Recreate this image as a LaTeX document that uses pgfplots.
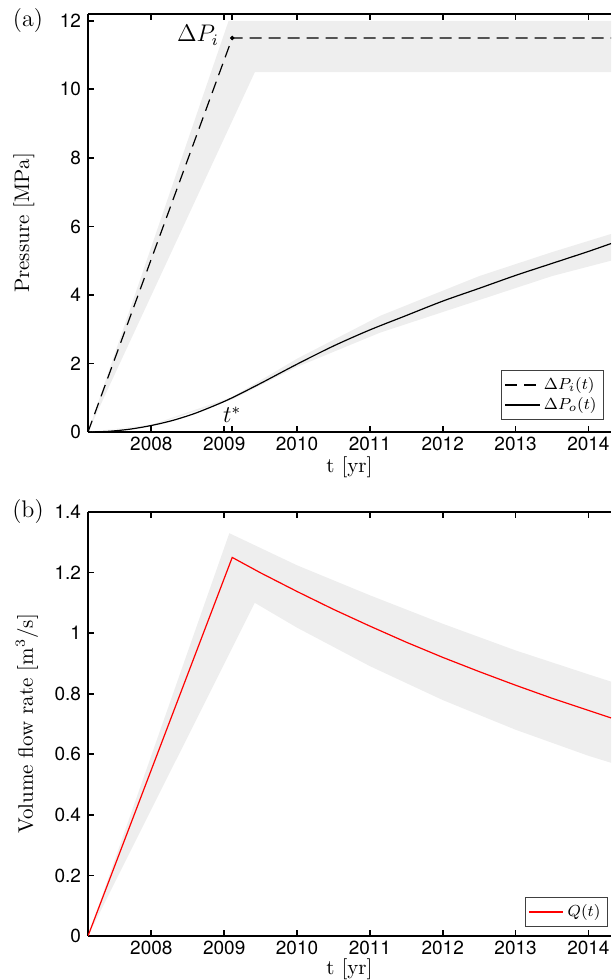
\documentclass[border=0pt]{standalone}
\usepackage{pgfplots}
\pgfplotsset{compat=1.18}
\usepackage{fontspec}
\newfontfamily\ticksf{TeX Gyre Heros}
\definecolor{band}{gray}{0.935}
\begin{document}
\begin{tikzpicture}
\useasboundingbox (0,0) rectangle (305.5pt,490pt);
\pgfplotsset{
  common/.style={
    scale only axis, width=261.5pt,
    xmin=2007.13, xmax=2014.31,
    axis x line*=box, axis y line*=left,
    tick align=inside, major tick length=3pt,
    axis line style={line width=0.9pt},
    every tick/.style={black, line width=0.9pt},
    xtick={2008,2009,2010,2011,2012,2013,2014},
    /pgf/number format/1000 sep={},
    /pgf/number format/assume math mode=true,
    tick label style={font=\ticksf\fontsize{9.5}{11}\selectfont},
    xticklabel style={yshift=1pt},
    label style={font=\fontsize{10.5}{12}\selectfont},
    clip mode=individual,
    legend style={font=\fontsize{8.5}{10}\selectfont, draw=black!75, line width=0.5pt, inner sep=1.5pt, row sep=-1.5pt, cells={anchor=west}},
  }
}
% ---------- (a) ----------
\begin{axis}[common, at={(44pt,274pt)}, anchor=south west, height=209pt,
  ymin=0, ymax=12.2, ytick={0,2,4,6,8,10,12},
  extra x ticks={2009.11}, extra x tick labels={},
  xlabel={t [yr]}, ylabel={Pressure [MPa]},
  xlabel style={at={(axis description cs:0.5,-0.0837)}, anchor=center},
  ylabel style={at={(axis description cs:-0.1224,0.5)}, anchor=center},
  legend style={at={(axis description cs:0.9866,0.0287)}, anchor=south east},
]
\addplot[fill=band, draw=none, forget plot] coordinates {(2007.13,0) (2009.06,12.0) (2014.5,12.0) (2014.5,10.5) (2009.42,10.5) (2007.13,0)};
\addplot[fill=band, draw=none, forget plot] coordinates {
 (2007.13,0) (2008,0.21) (2009.11,1.02) (2010,2.14) (2011.14,3.39) (2012.5,4.55) (2013.5,5.25) (2014.31,5.78)
 (2014.31,5.0) (2013.5,4.55) (2012.5,3.85) (2011.14,2.9) (2010,1.9) (2009.11,0.95) (2008,0.19) (2007.13,0)};
\addplot[black, line width=0.6pt, dash pattern=on 6pt off 3.5pt] coordinates {(2007.13,0) (2009.11,11.5) (2014.31,11.5)};
\addlegendentry{$\Delta P_i(t)$}
\addplot[black, line width=0.6pt, smooth] coordinates {
 (2007.13,0) (2007.4,0.018) (2007.7,0.081) (2008,0.19) (2008.3,0.342) (2008.6,0.545) (2008.9,0.80) (2009.11,1.0)
 (2009.5,1.42) (2010,1.98) (2010.5,2.51) (2011,2.98) (2011.5,3.40) (2012,3.82) (2012.51,4.2) (2013,4.57) (2013.5,4.92) (2014,5.27) (2014.31,5.5)};
\addlegendentry{$\Delta P_o(t)$}
\addplot[black, only marks, mark=*, mark size=0.9pt, forget plot] coordinates {(2009.11,11.5)};
\node[anchor=east, font=\fontsize{12}{14}\selectfont] at (axis cs:2009.02,11.58) {$\Delta P_i$};
\node[font=\fontsize{12}{14}\selectfont] at (axis cs:2009.11,0.5) {$t^*$};
\end{axis}
\node[font=\fontsize{12}{14}\selectfont] at (14pt,479.5pt) {(a)};
% ---------- (b) ----------
\begin{axis}[common, at={(44pt,22pt)}, anchor=south west, height=212pt,
  ymin=0, ymax=1.4, ytick={0,0.2,0.4,0.6,0.8,1,1.2,1.4},
  xlabel={t [yr]}, ylabel={Volume flow rate [m$^3$/s]},
  xlabel style={at={(axis description cs:0.5,-0.0790)}, anchor=center},
  ylabel style={at={(axis description cs:-0.1166,0.5)}, anchor=center},
  legend style={at={(axis description cs:0.994,0.021)}, anchor=south east},
]
\addplot[fill=band, draw=none, forget plot] coordinates {
 (2007.13,0) (2009.07,1.33) (2010,1.224) (2011,1.125) (2012,1.031) (2013,0.943) (2014,0.864) (2014.31,0.84)
 (2014.31,0.572) (2014,0.595) (2013,0.681) (2012,0.779) (2011,0.891) (2010,1.018) (2009.42,1.10) (2007.13,0)};
\addplot[red, line width=0.6pt] coordinates {
 (2007.13,0) (2009.11,1.25) (2009.5,1.199) (2010,1.1375) (2010.5,1.0785) (2011,1.0232) (2011.5,0.970) (2012,0.920)
 (2012.5,0.873) (2013,0.828) (2013.5,0.785) (2014,0.745) (2014.31,0.720)};
\addlegendentry{$Q(t)$}
\end{axis}
\node[font=\fontsize{12}{14}\selectfont] at (14pt,234pt) {(b)};
\end{tikzpicture}
\end{document}
